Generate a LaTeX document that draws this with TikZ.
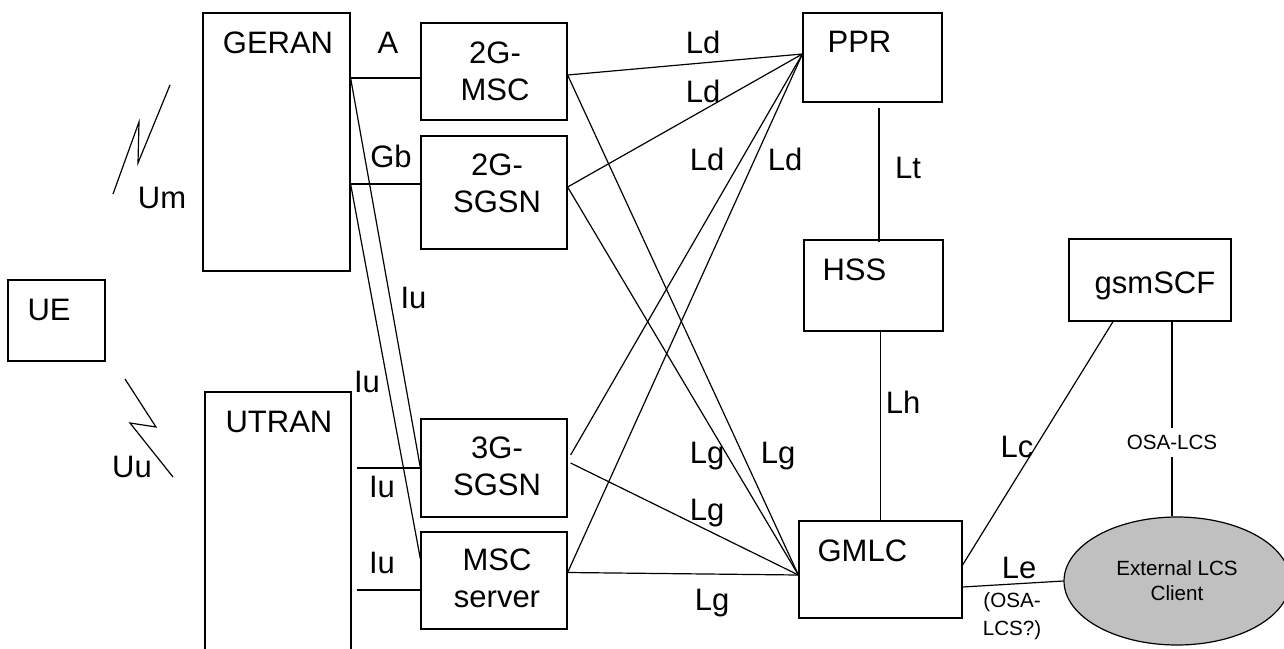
\documentclass[tikz,border=0pt]{standalone}
\usepackage{fontspec}
\setmainfont{Liberation Sans}
\usepackage{tikz}
\usetikzlibrary{
  calc,positioning,
  shapes.geometric
}
\definecolor{clientgray}{RGB}{192,192,192}

\begin{document}
\begin{tikzpicture}[x=0.5pt,y=-0.5pt,line width=0.6pt,
  box/.style={draw,rectangle,inner sep=0pt},
  big/.style={font=\fontsize{15.5}{18.5}\selectfont,inner sep=0pt,anchor=base,align=center},
  small/.style={font=\fontsize{10.3}{12.5}\selectfont,inner sep=0pt,align=center}]

\clip (0,0) rectangle (1284,648);

\node[box,minimum width=48.5pt,minimum height=40.5pt] (ue) at (56.5,320.5) {};
\node[box,minimum width=73.5pt,minimum height=129pt] (geran) at (276.5,142) {};
\node[box,minimum width=73pt,minimum height=144pt] (utran) at (278,536) {};
\node[box,minimum width=73pt,minimum height=48.5pt] (msc2g) at (494,71.5) {};
\node[box,minimum width=73pt,minimum height=56.5pt] (sgsn2g) at (494,192.5) {};
\node[box,minimum width=73pt,minimum height=49pt] (sgsn3g) at (494,468) {};
\node[box,minimum width=73pt,minimum height=48.5pt] (mscs) at (494,580.5) {};
\node[box,minimum width=69.5pt,minimum height=44.5pt] (ppr) at (872.5,57.5) {};
\node[box,minimum width=69.5pt,minimum height=45.5pt] (hss) at (873.5,285.5) {};
\node[box,minimum width=81pt,minimum height=41pt] (gsmscf) at (1150,280) {};
\node[box,minimum width=81.5pt,minimum height=48.5pt] (gmlc) at (880.5,569.5) {};
\node[ellipse,draw,fill=clientgray,minimum width=113pt,minimum height=64pt,small,
  inner sep=0pt] (ext) at (1177,581) {External LCS\\Client};

\node[big,anchor=base west] (ue-t) at (27,320) {UE};
\node[big] (geran-t) at (278,53) {GERAN};
\node[big] (utran-t) at (279,432) {UTRAN};
\node[big] (msc2g-t) at (495,100) {2G-\\MSC};
\node[big] (sgsn2g-t) at (497,212) {2G-\\SGSN};
\node[big] (sgsn3g-t) at (497,495) {3G-\\SGSN};
\node[big] (mscs-t) at (497,607) {MSC\\server};
\node[big,anchor=base west] (ppr-t) at (827,52) {PPR};
\node[big,anchor=base west] (hss-t) at (822,280) {HSS};
\node[big] (gsmscf-t) at (1155,293) {gsmSCF};
\node[big,anchor=base west] (gmlc-t) at (817,561) {GMLC};

\draw (113,194) -- (139,122) -- (138,163) -- (170,85);
\draw (125,379) -- (156,427) -- (130,423) -- (173,477);
\node[big] (um) at (162,208) {Um};
\node[big] (uu) at (132,477) {Uu};

\coordinate (pa) at ([yshift=-3.25pt]msc2g.west);
\coordinate (pb) at ([yshift=4.25pt]sgsn2g.west);
\coordinate (pc) at ([yshift=-4.75pt]mscs.west);
\coordinate (ja) at (geran.east |- pa);
\coordinate (jb) at (geran.east |- pb);
\coordinate (ua) at ([xshift=2.5pt]utran.east);
\draw (ja) -- (pa);
\draw (jb) -- (pb);
\draw (ja) -- (sgsn3g.west);
\draw (jb) -- ([yshift=10.75pt]mscs.west);
\draw (ua |- sgsn3g.west) -- (sgsn3g.west);
\draw (ua |- pc) -- (pc);
\node[big] (la) at (388,54) {A};
\node[big] (lgb) at (391,167) {Gb};
\node[big] (liu1) at (413.5,308) {Iu};
\node[big] (liu2) at (367,392) {Iu};
\node[big] (liu3) at (382,497) {Iu};
\node[big] (liu4) at (382,573) {Iu};

\coordinate (pd) at ([yshift=1.75pt]ppr.west);
\coordinate (pg) at ([yshift=-2.75pt]gmlc.west);
\coordinate (m2) at ([yshift=-1.75pt]msc2g.east);
\coordinate (s2) at ([yshift=2.75pt]sgsn2g.east);
\coordinate (s3d) at ([xshift=1.5pt,yshift=6.5pt]sgsn3g.east);
\coordinate (s3g) at ([xshift=1.5pt,yshift=2.5pt]sgsn3g.east);
\coordinate (ms) at ([yshift=4pt]mscs.east);
\draw (m2) -- (pd);
\draw (s2) -- (pd);
\draw (s3d) -- (pd);
\draw (ms) -- (pd);
\draw (m2) -- (pg);
\draw (s2) -- (pg);
\draw (s3g) -- (pg);
\draw (ms) -- (pg);
\node[big] (lld1) at (703,53) {Ld};
\node[big] (lld2) at (703,102) {Ld};
\node[big] (lld3) at (707,170) {Ld};
\node[big] (lld4) at (785,170) {Ld};
\node[big] (llg1) at (707,463) {Lg};
\node[big] (llg2) at (778,463) {Lg};
\node[big] (llg3) at (707,520) {Lg};
\node[big] (llg4) at (712,610) {Lg};

\draw ([xshift=3.25pt,yshift=-2.5pt]ppr.south) -- ([xshift=2.75pt,yshift=-1.5pt]hss.north);
\draw (hss.south -| gmlc.north) -- (gmlc.north);
\draw ([xshift=-18.5pt]gsmscf.south) -- ([yshift=2.25pt]gmlc.east);
\draw ([yshift=-8.75pt]gmlc.east) -- (ext.west);
\coordinate (os) at ([xshift=11pt]gsmscf.south);
\draw (os) -- (os |- ext.north)
  node[small,fill=white,inner xsep=1pt,inner ysep=3.5pt,pos=0.62] (losa) {OSA-LCS};
\node[big] (llt) at (908,178) {Lt};
\node[big] (llh) at (903,413) {Lh};
\node[big] (llc) at (1017,457) {Lc};
\node[big] (lle) at (1019,578) {Le};
\node[small,anchor=base,font=\fontsize{10.3}{14}\selectfont] (lle2) at (1012,635) {(OSA-\\LCS?)};
\end{tikzpicture}
\end{document}
